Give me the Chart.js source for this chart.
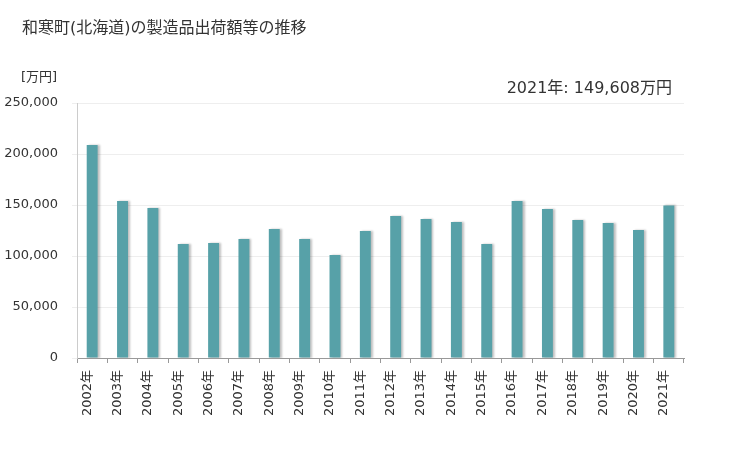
<!DOCTYPE html>
<html>
<head>
<meta charset="utf-8">
<script src="https://cdn.jsdelivr.net/npm/chart.js@4"></script>
<style>
  html, body { margin: 0; padding: 0; background: #fff; }
  #wrap { width: 729px; height: 450px; position: relative; }
</style>
</head>
<body>
<div id="wrap"><canvas id="myBarChart" width="729" height="450"></canvas></div>
<script>
const years = ['2002年', '2003年', '2004年', '2005年', '2006年', '2007年', '2008年', '2009年', '2010年', '2011年',
               '2012年', '2013年', '2014年', '2015年', '2016年', '2017年', '2018年', '2019年', '2020年', '2021年'];
const shipments = [208800, 153900, 147000, 111800, 112700, 116700, 126500, 116700, 101000, 124500,
                   139200, 136300, 133300, 111800, 153900, 146100, 135300, 132400, 125500, 149608];
const yTicks = [0, 50000, 100000, 150000, 200000, 250000];

const titleText = '和寒町(北海道)の製造品出荷額等の推移';
const unitText = '[万円]';
const noteText = '2021年: 149,608万円';

const jpFont = '"DejaVu Sans", "Noto Sans CJK JP", sans-serif';

// タイトル・単位・注記
const textPlugin = {
    id: 'texts',
    afterDraw(chart) {
        const c = chart.ctx;
        c.save();
        c.fillStyle = '#333';
        c.textBaseline = 'alphabetic';
        c.font = '16px ' + jpFont;
        c.textAlign = 'left';
        c.fillText(titleText, 22, 33);
        c.font = '13px ' + jpFont;
        c.fillText(unitText, 21, 81);
        c.font = '16px ' + jpFont;
        c.textAlign = 'right';
        c.fillText(noteText, 672, 93);
        c.restore();
    }
};

// 棒の影
const shadowPlugin = {
    id: 'barShadow',
    beforeDatasetDraw(chart) {
        const c = chart.ctx;
        c.save();
        c.shadowColor = 'rgba(0,0,0,0.25)';
        c.shadowOffsetX = 2;
        c.shadowOffsetY = 0;
        c.shadowBlur = 2;
    },
    afterDatasetDraw(chart) {
        chart.ctx.restore();
    }
};

const ctx = document.getElementById('myBarChart').getContext('2d');
new Chart(ctx, {
    type: 'bar',
    data: {
        labels: years,
        datasets: [{
            data: shipments,
            backgroundColor: '#57a1a8',
            barPercentage: 0.72,
            categoryPercentage: 0.5
        }]
    },
    options: {
        responsive: false,
        animation: false,
        layout: { padding: { top: 103, right: 45, left: 0, bottom: 0 } },
        plugins: {
            legend: { display: false },
            tooltip: { enabled: false }
        },
        scales: {
            x: {
                offset: true,
                grid: { drawOnChartArea: false, drawTicks: true, tickLength: 5, tickColor: '#999', offset: true },
                border: { color: '#999' },
                ticks: {
                    minRotation: 90,
                    maxRotation: 90,
                    padding: 7,
                    labelOffset: -5,
                    color: '#333',
                    font: { size: 13, family: jpFont }
                },
                afterFit(scale) { scale.height = 92; }
            },
            y: {
                min: 0,
                max: 250000,
                grid: { color: '#eeeeee', tickLength: 5, tickColor: '#eeeeee' },
                border: { color: '#cccccc' },
                afterBuildTicks(scale) { scale.ticks = yTicks.map(v => ({ value: v })); },
                ticks: {
                    padding: 14,
                    color: '#333',
                    font: { size: 13, family: jpFont },
                    callback: v => v.toLocaleString('en-US')
                },
                afterFit(scale) { scale.width = 77; }
            }
        }
    },
    plugins: [textPlugin, shadowPlugin]
});
</script>
</body>
</html>
